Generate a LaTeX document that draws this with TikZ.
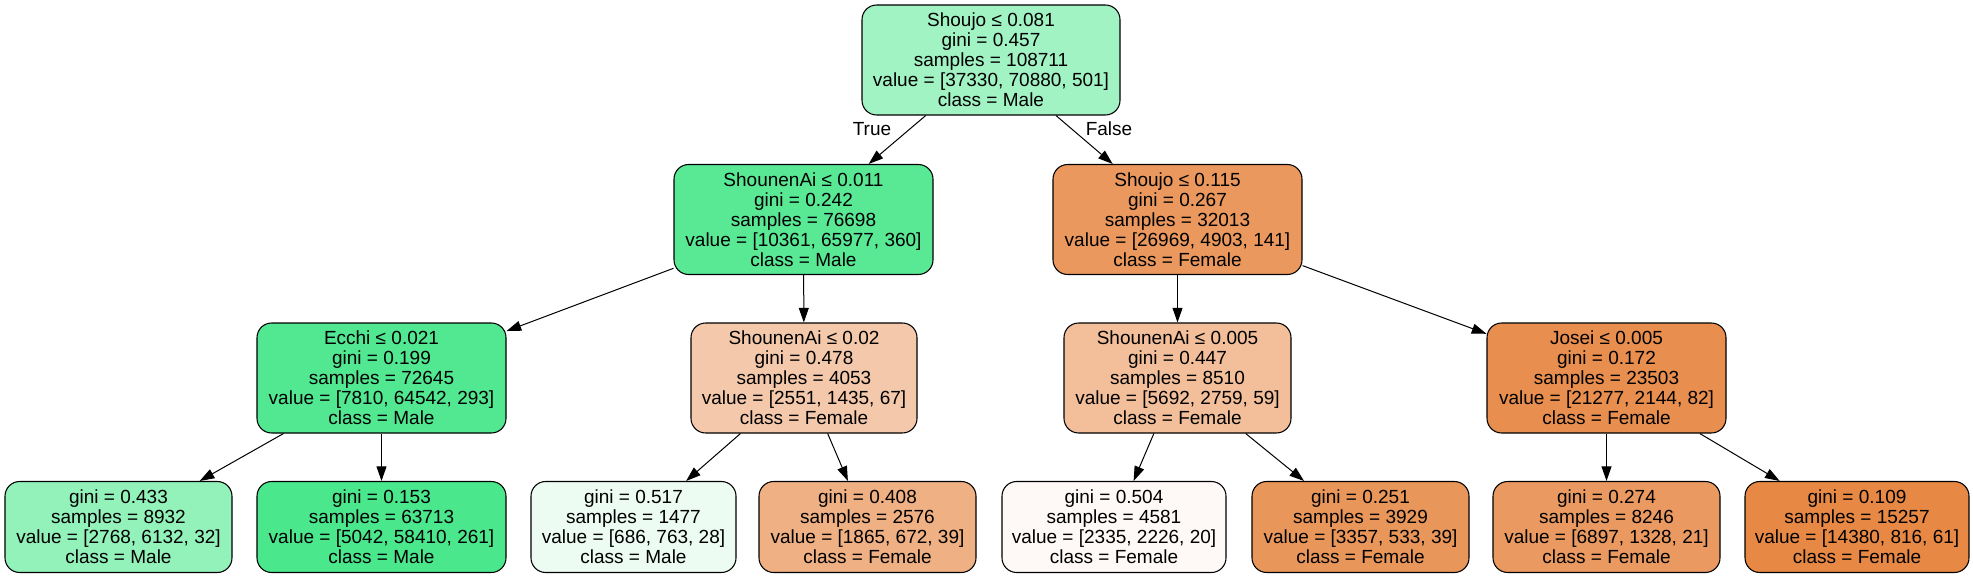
\documentclass[tikz,border=0pt]{standalone}
\usepackage{fontspec}
\setmainfont{Liberation Sans}
\usetikzlibrary{arrows.meta}
\definecolor{n0}{HTML}{A2F3C4}
\definecolor{n1}{HTML}{59E995}
\definecolor{n2}{HTML}{EA985E}
\definecolor{n3}{HTML}{52E891}
\definecolor{n4}{HTML}{F4C9AB}
\definecolor{n5}{HTML}{F2BF9A}
\definecolor{n6}{HTML}{E88E4E}
\definecolor{l1}{HTML}{93F1BA}
\definecolor{l2}{HTML}{4BE78C}
\definecolor{l3}{HTML}{ECFCF3}
\definecolor{l4}{HTML}{EFB083}
\definecolor{l5}{HTML}{FEF9F6}
\definecolor{l6}{HTML}{E9965A}
\definecolor{l7}{HTML}{EA9A60}
\definecolor{l8}{HTML}{E78945}
\begin{document}
\begin{tikzpicture}[x=0.75pt,y=-0.75pt,
  txt/.style={font=\fontsize{14.25pt}{15pt}\selectfont},
  tree/.style={txt, draw=black, line width=0.8pt, rounded corners=11pt,
    align=center, inner sep=0pt},
  split/.style={tree, minimum height=82.5pt},
  leaf/.style={tree, minimum height=68.25pt},
  wd/.style={minimum width=#1},
  edge/.style={-{Triangle[length=11pt,width=7.5pt]}, line width=0.75pt}]
\useasboundingbox (0,0) rectangle (1973,577);

\node[split, wd=193.5pt, fill=n0] (root) at (991,60)
  {Shoujo ≤ 0.081\\gini = 0.457\\samples = 108711\\value = [37330, 70880, 501]\\class = Male};
\node[split, wd=194.25pt, fill=n1] (a) at (803.5,219.5)
  {ShounenAi ≤ 0.011\\gini = 0.242\\samples = 76698\\value = [10361, 65977, 360]\\class = Male};
\node[split, wd=186.75pt, fill=n2] (b) at (1177.5,219.5)
  {Shoujo ≤ 0.115\\gini = 0.267\\samples = 32013\\value = [26969, 4903, 141]\\class = Female};
\node[split, wd=186.75pt, fill=n3] (c) at (381.5,378)
  {Ecchi ≤ 0.021\\gini = 0.199\\samples = 72645\\value = [7810, 64542, 293]\\class = Male};
\node[split, wd=169.5pt, fill=n4] (d) at (804,378)
  {ShounenAi ≤ 0.02\\gini = 0.478\\samples = 4053\\value = [2551, 1435, 67]\\class = Female};
\node[split, wd=170.25pt, fill=n5] (e) at (1177.5,378)
  {ShounenAi ≤ 0.005\\gini = 0.447\\samples = 8510\\value = [5692, 2759, 59]\\class = Female};
\node[split, wd=179.25pt, fill=n6] (f) at (1606.5,378)
  {Josei ≤ 0.005\\gini = 0.172\\samples = 23503\\value = [21277, 2144, 82]\\class = Female};

\node[leaf, wd=170.25pt, fill=l1] (g1) at (118.5,527)
  {gini = 0.433\\samples = 8932\\value = [2768, 6132, 32]\\class = Male};
\node[leaf, wd=186.75pt, fill=l2] (g2) at (381.5,527)
  {gini = 0.153\\samples = 63713\\value = [5042, 58410, 261]\\class = Male};
\node[leaf, wd=153.75pt, fill=l3] (g3) at (633.5,527)
  {gini = 0.517\\samples = 1477\\value = [686, 763, 28]\\class = Male};
\node[leaf, wd=162.75pt, fill=l4] (g4) at (867.5,527)
  {gini = 0.408\\samples = 2576\\value = [1865, 672, 39]\\class = Female};
\node[leaf, wd=168pt, fill=l5] (g5) at (1114,527)
  {gini = 0.504\\samples = 4581\\value = [2335, 2226, 20]\\class = Female};
\node[leaf, wd=162.75pt, fill=l6] (g6) at (1360.5,527)
  {gini = 0.251\\samples = 3929\\value = [3357, 533, 39]\\class = Female};
\node[leaf, wd=170.25pt, fill=l7] (g7) at (1606.5,527)
  {gini = 0.274\\samples = 8246\\value = [6897, 1328, 21]\\class = Female};
\node[leaf, wd=168pt, fill=l8] (g8) at (1857,527)
  {gini = 0.109\\samples = 15257\\value = [14380, 816, 61]\\class = Female};

\node[txt] (tlab) at (872,129) {True};
\node[txt] (flab) at (1109,129) {False};

\draw[edge] (root) -- (a);
\draw[edge] (root) -- (b);
\draw[edge] (a) -- (c);
\draw[edge] (a) -- (d);
\draw[edge] (b) -- (e);
\draw[edge] (b) -- (f);
\draw[edge] (c) -- (g1);
\draw[edge] (c) -- (g2);
\draw[edge] (d) -- (g3);
\draw[edge] (d) -- (g4);
\draw[edge] (e) -- (g5);
\draw[edge] (e) -- (g6);
\draw[edge] (f) -- (g7);
\draw[edge] (f) -- (g8);
\end{tikzpicture}
\end{document}
